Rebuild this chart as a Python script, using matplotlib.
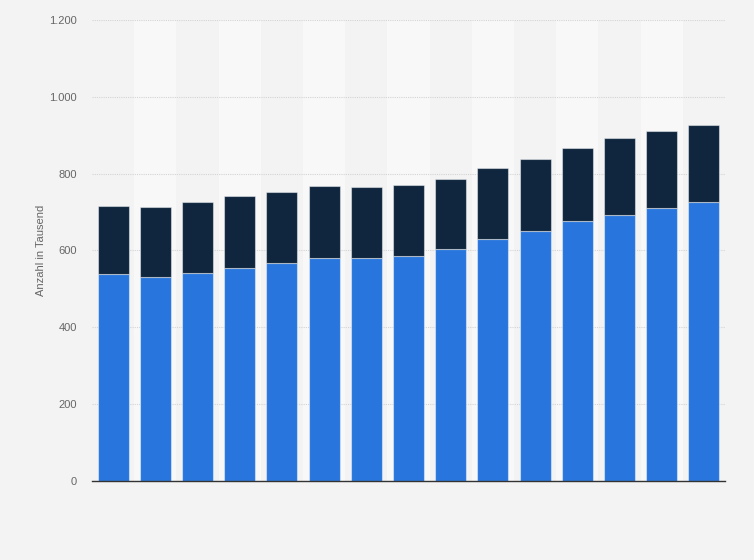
import matplotlib
matplotlib.use("Agg")
import matplotlib.pyplot as plt
import numpy as np
from matplotlib.ticker import FuncFormatter

categories = [str(i) for i in range(1, 16)]
series_bottom = [538, 532, 542, 555, 568, 581, 581, 585, 604, 630, 651, 677, 693, 711, 727]
totals = [717, 712, 726, 743, 751, 767, 765, 770, 785, 816, 839, 868, 892, 910, 927]
series_top = [t - b for t, b in zip(totals, series_bottom)]
y_ticks = [0, 200, 400, 600, 800, 1000, 1200]

plt.rcParams['font.family'] = ['Liberation Sans', 'DejaVu Sans']

fig = plt.figure(figsize=(7.54, 5.60), dpi=100)
fig.patch.set_facecolor('#f3f3f3')
ax = fig.add_axes([92/754, 1 - 481/560, (725 - 92)/754, (481 - 20)/560])
ax.set_facecolor('#f3f3f3')

x = np.arange(len(categories))
for i in x:
    if i % 2 == 1:
        ax.axvspan(i - 0.5, i + 0.5, color='#f8f8f8', zorder=0, lw=0)

ax.set_ylim(0, 1200)
ax.set_xlim(-0.5, len(categories) - 0.5)
ax.set_yticks(y_ticks)
ax.yaxis.set_major_formatter(FuncFormatter(lambda v, p: f"{int(v):,}".replace(",", ".")))
ax.grid(axis='y', color='#d4d4d4', linestyle=(0, (1, 1)), linewidth=0.8, zorder=1)
ax.set_axisbelow(True)

w = 0.735
ax.bar(x, series_bottom, width=w, color='#2876dd', edgecolor=(1, 1, 1, 0.45), linewidth=0.8, zorder=2)
ax.bar(x, series_top, bottom=series_bottom, width=w, color='#10263e', edgecolor=(1, 1, 1, 0.45), linewidth=0.8, zorder=2)

for s in ['top', 'right', 'left']:
    ax.spines[s].set_visible(False)
ax.spines['bottom'].set_color('#333333')
ax.spines['bottom'].set_linewidth(1.0)
ax.spines['bottom'].set_zorder(3)

ax.set_xticks([])
ax.tick_params(axis='y', length=0, labelsize=8, labelcolor='#666666', pad=11)
ax.set_ylabel('Anzahl in Tausend', fontsize=8, color='#666666', labelpad=2)

fig.savefig('out.png', dpi=100, facecolor=fig.get_facecolor())
